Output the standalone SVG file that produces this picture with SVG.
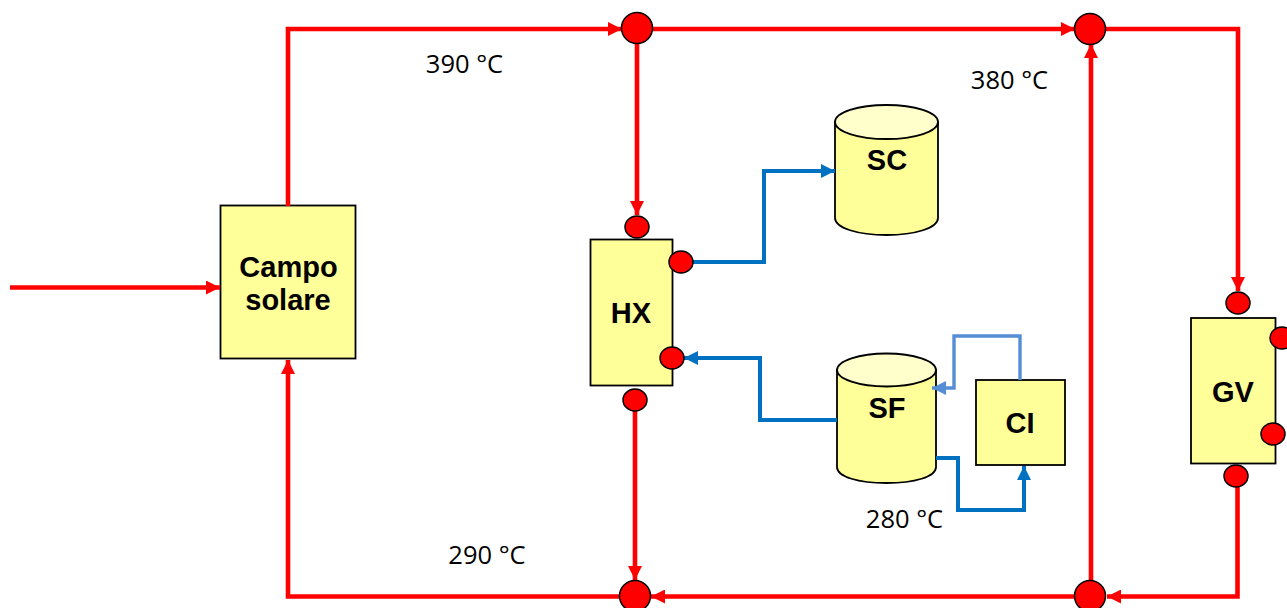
<svg xmlns="http://www.w3.org/2000/svg" width="1287" height="608" viewBox="0 0 1287 608">
<style>
.box{fill:#ffff99;stroke:#000;stroke-width:1.8}
.top{fill:#ffffcc;stroke:#000;stroke-width:1.8}
.dot{fill:#ff0000;stroke:#000;stroke-width:1.5}
.lbl{font-family:"Liberation Sans",Arial,sans-serif;font-weight:700;font-size:29px;fill:#000;text-anchor:middle}
.tmp{font-family:"Open Sans","Noto Sans",sans-serif;font-size:25.500px;fill:#000;text-anchor:middle}
.r{fill:none;stroke:#ff0000;stroke-width:4.600}
.b{fill:none;stroke:#0070c0;stroke-width:4}
.lb{fill:none;stroke:#558ed5;stroke-width:3.400}
</style>
<defs>
<marker id="ar" markerUnits="userSpaceOnUse" markerWidth="16" markerHeight="14" refX="14" refY="7" orient="auto"><path d="M0 0L14 7L0 14Z" fill="#ff0000"/></marker>
<marker id="ab" markerUnits="userSpaceOnUse" markerWidth="16" markerHeight="14" refX="14" refY="7" orient="auto"><path d="M0 0L14 7L0 14Z" fill="#0070c0"/></marker>
<marker id="alb" markerUnits="userSpaceOnUse" markerWidth="16" markerHeight="14" refX="14" refY="7" orient="auto"><path d="M0 0L14 7L0 14Z" fill="#558ed5"/></marker>
</defs>
<g id="campo"><rect class="box" x="220.500" y="205.500" width="135" height="153"/><text class="lbl" x="288.500" y="277">Campo</text><text class="lbl" x="288" y="310">solare</text></g>
<g id="hx"><rect class="box" x="590.500" y="239.500" width="82" height="146"/><text class="lbl" x="631" y="323">HX</text></g>
<g id="gv"><rect class="box" x="1191" y="318" width="84.500" height="145.500"/><text class="lbl" x="1233" y="402">GV</text></g>
<g id="ci"><rect class="box" x="976" y="380" width="89" height="85"/><text class="lbl" x="1020" y="433">CI</text></g>
<g id="sc"><path class="box" d="M835 122V218C835 228 858 235 886.500 235S938 228 938 218V122Z"/><ellipse class="top" cx="886.500" cy="122" rx="51.500" ry="17"/><text class="lbl" x="887" y="170">SC</text></g>
<g id="sf"><path class="box" d="M837 370V467C837 477 859 483 886.500 483S936 477 936 467V370Z"/><ellipse class="top" cx="886.500" cy="370" rx="49.500" ry="16.500"/><text class="lbl" x="887" y="418">SF</text></g>
<g id="connectors">
<path class="r" marker-end="url(#ar)" d="M10 287.500H220"/>
<path class="r" marker-end="url(#ar)" d="M288 206V29H622"/>
<path class="r" marker-end="url(#ar)" d="M652 29H1075"/>
<path class="r" marker-end="url(#ar)" d="M1106 29H1238V291"/>
<path class="r" marker-end="url(#ar)" d="M637 44V215"/>
<path class="r" marker-end="url(#ar)" d="M635 411V580"/>
<path class="r" marker-end="url(#ar)" d="M1237.500 487V596.500H1107"/>
<path class="r" marker-end="url(#ar)" d="M1075 596.500H651"/>
<path class="r" marker-end="url(#ar)" d="M620 596.500H288V360"/>
<path class="r" marker-end="url(#ar)" d="M1091 580V44"/>
<path class="b" marker-end="url(#ab)" d="M692 262H764V171H835"/>
<path class="b" marker-end="url(#ab)" d="M837 420H760V358H684"/>
<path class="b" marker-end="url(#ab)" d="M936 458H958V510H1024V466"/>
<path class="lb" marker-end="url(#alb)" d="M1020 380V336H954V388H932"/>
</g>
<g id="junction-top-left"><circle class="dot" cx="637" cy="28" r="15.500"/></g>
<g id="junction-top-right"><circle class="dot" cx="1090" cy="29" r="15.500"/></g>
<g id="junction-bottom-left"><circle class="dot" cx="635" cy="596" r="15.500"/></g>
<g id="junction-bottom-right"><circle class="dot" cx="1090" cy="596" r="15.500"/></g>
<g id="port-hx-top"><ellipse class="dot" cx="637" cy="227" rx="12" ry="11"/></g>
<g id="port-hx-out"><ellipse class="dot" cx="681" cy="262" rx="12" ry="11"/></g>
<g id="port-hx-in"><ellipse class="dot" cx="672" cy="358" rx="12" ry="11"/></g>
<g id="port-hx-bottom"><ellipse class="dot" cx="635" cy="400" rx="12" ry="11"/></g>
<g id="port-gv-top"><ellipse class="dot" cx="1238" cy="303" rx="12" ry="11"/></g>
<g id="port-gv-out"><ellipse class="dot" cx="1282" cy="338" rx="12" ry="11"/></g>
<g id="port-gv-in"><ellipse class="dot" cx="1273" cy="434" rx="12" ry="11"/></g>
<g id="port-gv-bottom"><ellipse class="dot" cx="1236" cy="476" rx="12" ry="11"/></g>
<g id="temperatures">
<text class="tmp" x="464.500" y="73">390 °C</text>
<text class="tmp" x="1009.500" y="89">380 °C</text>
<text class="tmp" x="487" y="564">290 °C</text>
<text class="tmp" x="904.500" y="528">280 °C</text>
</g>
</svg>
